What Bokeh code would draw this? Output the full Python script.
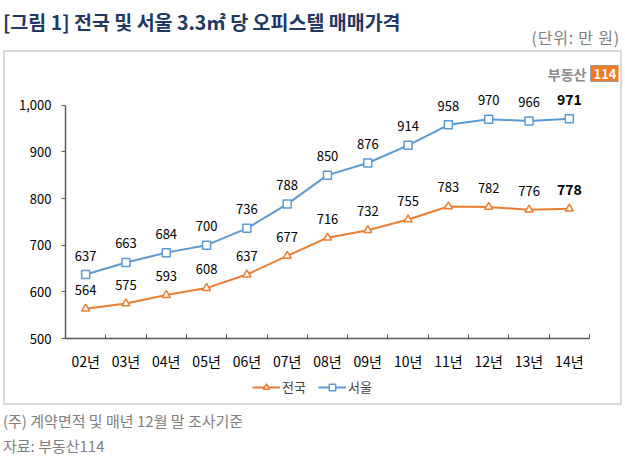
from bokeh.plotting import figure
from bokeh.models import (Label, Legend, LegendItem, FixedTicker, ColumnDataSource,
                          Range1d, Div, InlineStyleSheet)
from bokeh.layouts import column
from bokeh.core.properties import value
from bokeh.embed import file_html
from bokeh.resources import INLINE

years = ["02년", "03년", "04년", "05년", "06년", "07년", "08년", "09년", "10년", "11년", "12년", "13년", "14년"]
national = [564, 575, 593, 608, 637, 677, 716, 732, 755, 783, 782, 776, 778]
seoul = [637, 663, 684, 700, 736, 788, 850, 876, 914, 958, 970, 966, 971]
y_ticks = [500, 600, 700, 800, 900, 1000]

FONT = "Noto Sans CJK KR"
ORANGE = "#ED7D31"
BLUE = "#5B9BD5"
AXIS = "#595959"

xs = list(range(1, len(years) + 1))
n = len(xs)

header = Div(width=625, height=50, margin=(0, 0, 0, 0), text=(
    '<div style="position:relative;width:625px;height:50px;font-family:\'Noto Sans CJK KR\';">'
    '<span style="position:absolute;left:3px;top:8px;font-size:19.5px;font-weight:bold;'
    'color:#1F3864;white-space:nowrap;">[그림 1] 전국 및 서울 3.3㎡ 당 오피스텔 매매가격</span>'
    '<span style="position:absolute;right:5px;top:26px;font-size:16px;color:#808080;'
    'letter-spacing:0.8px;white-space:nowrap;">(단위: 만 원)</span></div>'))

p = figure(width=615, height=323, output_backend="svg", toolbar_location=None,
           x_range=Range1d(0.5, n + 1.22), y_range=Range1d(500, 1100),
           min_border_left=60, min_border_right=2, min_border_top=6, min_border_bottom=37)
p.outline_line_color = None
p.grid.visible = False

p.yaxis.ticker = FixedTicker(ticks=y_ticks)
p.yaxis.bounds = (500, 1000)
p.yaxis.major_label_overrides = {1000: "1,000"}
p.yaxis.major_tick_out = 4
p.yaxis.major_tick_in = 0
p.yaxis.minor_tick_line_color = None
p.yaxis.major_label_standoff = 10

p.xaxis.ticker = FixedTicker(ticks=xs, minor_ticks=[x - 0.5 for x in xs] + [n + 0.5])
p.xaxis.bounds = (0.5, n + 0.5)
p.xaxis.major_label_overrides = {x: y for x, y in zip(xs, years)}
p.xaxis.major_tick_out = 0
p.xaxis.major_tick_in = 0
p.xaxis.minor_tick_in = 4
p.xaxis.minor_tick_out = 0
p.xaxis.minor_tick_line_color = AXIS
p.xaxis.major_label_standoff = 12

for ax in (p.xaxis, p.yaxis):
    ax.major_label_text_font = FONT
    ax.major_label_text_color = "#000000"
    ax.axis_line_color = AXIS
    ax.axis_line_width = 1.5
p.yaxis.major_label_text_font_size = "13px"
p.xaxis.major_label_text_font_size = "14px"
p.yaxis.major_tick_line_color = AXIS
p.xaxis.major_tick_line_color = None

src = ColumnDataSource(dict(x=xs, nat=national, seo=seoul))


def draw_series(fig):
    ln = fig.line("x", "nat", source=src, line_color=ORANGE, line_width=2)
    mn = fig.scatter("x", "nat", source=src, marker="triangle", size=8, fill_color="white",
                     line_color=ORANGE, line_width=1.5)
    ls = fig.line("x", "seo", source=src, line_color=BLUE, line_width=2)
    ms = fig.scatter("x", "seo", source=src, marker="square", size=8, fill_color="white",
                     line_color=BLUE, line_width=1.5)
    return ln, mn, ls, ms


draw_series(p)

src_a = ColumnDataSource(dict(x=xs[:n - 1], nat=national[:n - 1], seo=seoul[:n - 1],
                              nat_t=[str(v) for v in national[:n - 1]],
                              seo_t=[str(v) for v in seoul[:n - 1]]))
src_b = ColumnDataSource(dict(x=xs[n - 1:], nat=national[n - 1:], seo=seoul[n - 1:],
                              nat_t=[str(v) for v in national[n - 1:]],
                              seo_t=[str(v) for v in seoul[n - 1:]]))
for s, style, size in ((src_a, "normal", "13px"), (src_b, "bold", "14px")):
    for col, tcol in (("nat", "nat_t"), ("seo", "seo_t")):
        p.text("x", col, text=tcol, source=s, text_align="center", text_baseline="middle",
               y_offset=-19, text_font=value(FONT), text_font_size=size,
               text_font_style=style, text_color="#000000")

# logo
p.add_layout(Label(x=521, y=265, x_units="screen", y_units="screen", text="부동산",
                   text_font=FONT, text_font_size="14px", text_font_style="bold",
                   text_color="#8c8c8c", text_align="right", text_baseline="middle"))
p.add_layout(Label(x=525, y=265, x_units="screen", y_units="screen", text="114",
                   text_font=FONT, text_font_size="13px", text_font_style="bold",
                   text_color="white", text_baseline="middle",
                   background_fill_color="#F47920", border_line_color="#9a9a9a",
                   padding=3))

# legend row (series drawn outside its visible range; only the legend shows)
lg = figure(width=615, height=28, output_backend="svg", toolbar_location=None,
            x_range=Range1d(100, 101), y_range=Range1d(0, 1),
            x_axis_type=None, y_axis_type=None, min_border=0)
lg.outline_line_color = None
lg.grid.visible = False
ln2, mn2, ls2, ms2 = draw_series(lg)
legend = Legend(items=[LegendItem(label="전국", renderers=[ln2, mn2]),
                       LegendItem(label="서울", renderers=[ls2, ms2])],
                orientation="horizontal", location=(187, 7),
                label_text_font=FONT, label_text_font_size="13px",
                glyph_width=28, glyph_height=16, label_height=16, label_standoff=2, spacing=12,
                padding=0, margin=0, border_line_color=None, background_fill_alpha=0)
lg.add_layout(legend, "center")

box_css = InlineStyleSheet(css=":host { border: 2px solid #d9d9d9; margin-left: 3px; }")
boxed = column(p, lg, spacing=0, stylesheets=[box_css])

footer = Div(width=625, height=52, margin=(0, 0, 0, 0), text=(
    '<div style="position:relative;width:625px;height:52px;font-family:\'Noto Sans CJK KR\';'
    'font-size:15px;color:#808080;">'
    '<span style="position:absolute;left:3px;top:5px;white-space:nowrap;">(주) 계약면적 및 매년 12월 말 조사기준</span>'
    '<span style="position:absolute;left:3px;top:30px;white-space:nowrap;">자료: 부동산114</span></div>'))

layout = column(header, boxed, footer, spacing=0)
open("out.html", "w").write(file_html(layout, INLINE))
